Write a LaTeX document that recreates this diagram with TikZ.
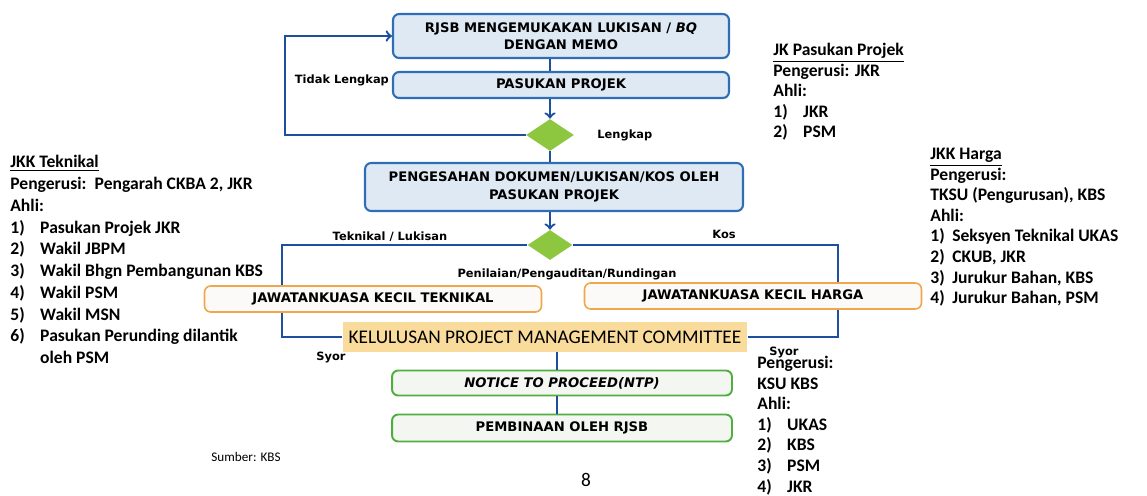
\documentclass[tikz,border=0pt]{standalone}
\usepackage{fontspec}
\setmainfont{Carlito}
\newfontfamily\boxfont{DejaVu Sans}
\usepackage{xcolor}
\usepackage{tikz}
\usetikzlibrary{shapes.geometric}
\usetikzlibrary{arrows}
\usetikzlibrary{positioning}
\definecolor{flowblue}{HTML}{2F6DB5}
\definecolor{boxfill}{HTML}{DFE9F4}
\definecolor{linkblue}{HTML}{1C4F9E}
\definecolor{diamondgreen}{HTML}{8DC63F}
\definecolor{jkkorange}{HTML}{F0A64A}
\definecolor{jkkfill}{HTML}{FBFAF8}
\definecolor{ntpgreen}{HTML}{4FAE3F}
\definecolor{ntpfill}{HTML}{F4F7F1}
\definecolor{pmcfill}{HTML}{F9DC9B}
\newcommand\itm[3][17pt]{\makebox[#1][l]{#2}#3}
\tikzset{
	flow box/.style={rectangle,rounded corners=3.5pt,draw=flowblue,fill=boxfill,line width=1.2pt,
		inner sep=0pt,align=center,font=\boxfont\bfseries\fontsize{7.5}{10}\selectfont},
	jkk box/.style={rectangle,rounded corners=3.5pt,draw=jkkorange,fill=jkkfill,line width=0.9pt,
		inner sep=0pt,minimum width=6.74cm,minimum height=0.52cm,font=\boxfont\bfseries\fontsize{7.5}{9}\selectfont},
	ntp box/.style={rectangle,rounded corners=3.5pt,draw=ntpgreen,fill=ntpfill,line width=1.1pt,
		inner sep=0pt,minimum width=6.8cm,minimum height=0.5cm,font=\boxfont\bfseries\fontsize{7.5}{9}\selectfont},
	pmc box/.style={rectangle,fill=pmcfill,inner sep=0pt,minimum width=8.1cm,minimum height=0.6cm,
		font=\fontsize{11}{13}\selectfont},
	decision/.style={diamond,fill=diamondgreen,inner sep=0pt},
	link/.style={draw=linkblue,line width=1.3pt},
	lbl/.style={inner sep=1pt,font=\boxfont\bfseries\fontsize{6.5}{8}\selectfont},
	info/.style={anchor=north west,inner sep=0pt,align=left,font=\bfseries\fontsize{10}{11.7}\selectfont}
}

\begin{document}
\begin{tikzpicture}[x=0.02cm,y=-0.02cm,>=to]
	\useasboundingbox (0,0) rectangle (1147,495);
	% aliran utama
	\node [flow box,minimum width=6.72cm,minimum height=0.88cm] (memo) at (561,36) {RJSB MENGEMUKAKAN LUKISAN / \textit{BQ}\\DENGAN MEMO};
	\node [flow box,minimum width=6.72cm,minimum height=0.52cm] (pasukan) at (561,85) {PASUKAN PROJEK};
	\node [decision,minimum width=0.96cm,minimum height=0.64cm] (semak) at (550,135) {};
	\node [flow box,minimum width=7.56cm,minimum height=0.96cm] (sah) at (554,187) {PENGESAHAN DOKUMEN/LUKISAN/KOS OLEH\\PASUKAN PROJEK};
	\node [decision,minimum width=0.9cm,minimum height=0.6cm] (pilih) at (550,245) {};
	\node [pmc box] (pmc) at (545,337) {KELULUSAN PROJECT MANAGEMENT COMMITTEE};
	\node [ntp box] (ntp) at (562,383) {\textit{NOTICE TO PROCEED(NTP)}};
	\node [ntp box,minimum height=0.54cm] (bina) at (562,428) {PEMBINAAN OLEH RJSB};
	% penyambung
	\coordinate (kiri) at (285,0);
	\coordinate (tek) at (282,0);
	\coordinate (kos) at (838,0);
	\coordinate (bawah) at (557,0);
	\begin{scope}[link]
		\draw (memo.south -| semak) -- (pasukan.north -| semak);
		\draw [->] (pasukan.south -| semak) -- (semak.north);
		\draw [->] (semak.west) -- (semak.west -| kiri) |- (memo.west);
		\draw (semak.south) -- (sah.north -| semak);
		\draw [->] (sah.south -| semak) -- (pilih.north);
		\draw (pilih.west) -- (pilih.west -| tek) |- (pmc.west);
		\draw (pilih.east) -- (pilih.east -| kos) |- (pmc.east);
		\draw (pmc.south -| bawah) -- (ntp.north -| bawah);
		\draw (ntp.south -| bawah) -- (bina.north -| bawah);
	\end{scope}
	\node [jkk box] (jkkt) at (373,299) {JAWATANKUASA KECIL TEKNIKAL};
	\node [jkk box] (jkkh) at (753,296) {JAWATANKUASA KECIL HARGA};
	% label
	\node [lbl,anchor=east] (tidak) at (391,80) {Tidak Lengkap};
	\node [lbl,right=0.42cm of semak] (lengkap) {Lengkap};
	\node [lbl] (teklbl) at (390,237) {Teknikal / Lukisan};
	\node [lbl] (koslbl) at (724,234) {Kos};
	\node [lbl] (nilai) at (567,274) {Penilaian/Pengauditan/Rundingan};
	\node [lbl] (syorkiri) at (331,357) {Syor};
	\node [lbl] (syorkanan) at (784,352) {Syor};
	% senarai ahli
	\node [info,font=\bfseries\fontsize{10}{12.4}\selectfont] (jkt) at (10,155) {\underline{JKK Teknikal}\\
		Pengerusi: \,Pengarah CKBA 2, JKR\\
		Ahli:\\
		\itm{1)}{Pasukan Projek JKR}\\
		\itm{2)}{Wakil JBPM}\\
		\itm{3)}{Wakil Bhgn Pembangunan KBS}\\
		\itm{4)}{Wakil PSM}\\
		\itm{5)}{Wakil MSN}\\
		\itm{6)}{Pasukan Perunding dilantik}\\
		\itm{}{oleh PSM}};
	\node [info] (jkp) at (773,43) {\underline{JK Pasukan Projek}\\
		Pengerusi: JKR\\
		Ahli:\\
		\itm{1)}{JKR}\\
		\itm{2)}{PSM}};
	\node [info] (jkh) at (930,148) {\underline{JKK Harga}\\
		Pengerusi:\\
		TKSU (Pengurusan), KBS\\
		Ahli:\\
		\itm[12.5pt]{1)}{Seksyen Teknikal UKAS}\\
		\itm[12.5pt]{2)}{CKUB, JKR}\\
		\itm[12.5pt]{3)}{Jurukur Bahan, KBS}\\
		\itm[12.5pt]{4)}{Jurukur Bahan, PSM}};
	\node [info] (pmcahli) at (757,356) {Pengerusi:\\
		KSU KBS\\
		Ahli:\\
		\itm{1)}{UKAS}\\
		\itm{2)}{KBS}\\
		\itm{3)}{PSM}\\
		\itm{4)}{JKR}};
	\node [font=\fontsize{7.5}{9}\selectfont] (sumber) at (246,457) {Sumber: KBS};
	\node [font=\fontsize{11}{13}\selectfont] (muka) at (586,480) {8};
\end{tikzpicture}
\end{document}
